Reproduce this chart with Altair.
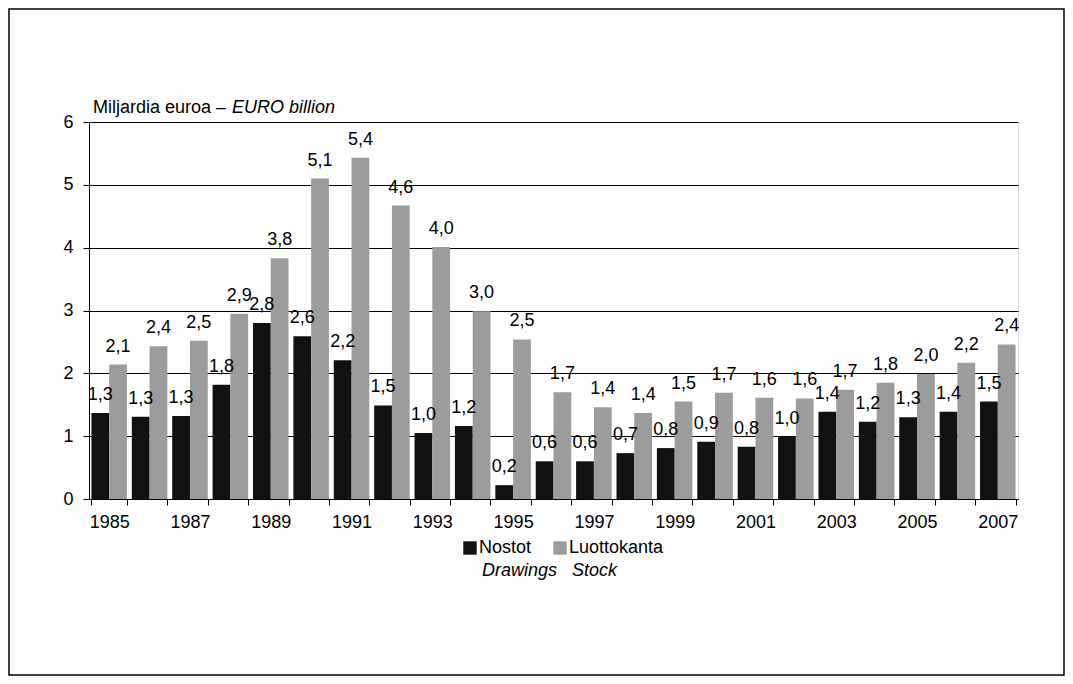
import altair as alt
import pandas as pd

years = [str(y) for y in range(1985, 2008)]
drawings = [1.37, 1.31, 1.32, 1.82, 2.80, 2.59, 2.21, 1.49, 1.05, 1.16, 0.22, 0.60, 0.60,
            0.73, 0.81, 0.91, 0.83, 0.99, 1.39, 1.23, 1.30, 1.39, 1.55]
drawings_labels = ["1,3", "1,3", "1,3", "1,8", "2,8", "2,6", "2,2", "1,5", "1,0", "1,2", "0,2", "0,6", "0,6",
                   "0,7", "0,8", "0,9", "0,8", "1,0", "1,4", "1,2", "1,3", "1,4", "1,5"]
stock = [2.14, 2.43, 2.52, 2.95, 3.83, 5.10, 5.43, 4.67, 4.01, 2.99, 2.54, 1.70, 1.46,
         1.37, 1.55, 1.69, 1.61, 1.60, 1.74, 1.85, 1.99, 2.17, 2.46]
stock_labels = ["2,1", "2,4", "2,5", "2,9", "3,8", "5,1", "5,4", "4,6", "4,0", "3,0", "2,5", "1,7", "1,4",
                "1,4", "1,5", "1,7", "1,6", "1,6", "1,7", "1,8", "2,0", "2,2", "2,4"]
series_names = ["Nostot", "Luottokanta"]
series_en = ["Drawings", "Stock"]
series_colors = ["#111111", "#9c9c9c"]
title_fi = "Miljardia euroa – "
title_en = "EURO billion"

FONT = "Liberation Sans, Arial, Helvetica"
FS = 18

rows = []
for i, y in enumerate(years):
    rows.append({"year": y, "series": series_names[0], "value": drawings[i], "label": drawings_labels[i]})
    rows.append({"year": y, "series": series_names[1], "value": stock[i], "label": stock_labels[i]})
df = pd.DataFrame(rows)

W, H = 929, 377

xenc = alt.X("year:O", title=None, sort=years,
             scale=alt.Scale(paddingInner=0.12, paddingOuter=0.06),
             axis=alt.Axis(labelAngle=0, tickBand="extent", tickSize=6, tickColor="black",
                           domainColor="black", labelColor="black", labelFont=FONT,
                           labelFontSize=FS, labelPadding=8,
                           labelExpr="parseInt(datum.value) % 2 == 1 ? datum.label : ''"))
xoff = alt.XOffset("series:N", sort=series_names, scale=alt.Scale(paddingInner=0))

base = alt.Chart(df)
bars = base.mark_bar().encode(
    x=xenc,
    xOffset=xoff,
    y=alt.Y("value:Q", title=None, scale=alt.Scale(domain=[0, 6]),
            axis=alt.Axis(values=[0, 1, 2, 3, 4, 5, 6], format="d", grid=True, gridColor="black",
                          gridOpacity=1, gridWidth=1, tickSize=6, tickColor="black",
                          domainColor="black", labelColor="black", labelFont=FONT,
                          labelFontSize=FS, labelPadding=10)),
    color=alt.Color("series:N", scale=alt.Scale(domain=series_names, range=series_colors), legend=None),
)
labels = base.mark_text(font=FONT, fontSize=FS, color="black", baseline="alphabetic", dy=-13).encode(
    x=alt.X("year:O", sort=years),
    xOffset=xoff,
    y="value:Q",
    text="label:N",
)

one = pd.DataFrame({"k": [0]})
frame = alt.Chart(one).mark_rect(fill="white", fillOpacity=0, stroke="black", strokeWidth=1.5).encode(
    x=alt.value(-80), x2=alt.value(975), y=alt.value(-113), y2=alt.value(553))

t1 = alt.Chart(one).mark_text(font=FONT, fontSize=FS, align="left", baseline="alphabetic", color="black").encode(
    x=alt.value(4), y=alt.value(-9), text=alt.value(title_fi))
t2 = alt.Chart(one).mark_text(font=FONT, fontSize=FS, fontStyle="italic", align="left",
                              baseline="alphabetic", color="black").encode(
    x=alt.value(143), y=alt.value(-9), text=alt.value(title_en))

leg_sq = []
leg_x = [381, 471]
for i in range(2):
    leg_sq.append(alt.Chart(one).mark_square(size=180, color=series_colors[i], opacity=1).encode(
        x=alt.value(leg_x[i]), y=alt.value(426)))
    leg_sq.append(alt.Chart(one).mark_text(font=FONT, fontSize=FS, align="left", baseline="middle",
                                           color="black").encode(
        x=alt.value(leg_x[i] + 9), y=alt.value(426), text=alt.value(series_names[i])))
    leg_sq.append(alt.Chart(one).mark_text(font=FONT, fontSize=FS, fontStyle="italic", align="left",
                                           baseline="middle", color="black").encode(
        x=alt.value(leg_x[i] + 12), y=alt.value(449), text=alt.value(series_en[i])))

chart = alt.layer(frame, bars, labels, t1, t2, *leg_sq).properties(
    width=W, height=H,
    padding={"left": 81, "top": 114, "right": 47, "bottom": 177},
    autosize=alt.AutoSizeParams(type="none"),
).configure_view(stroke="black", strokeWidth=1).configure(background="white")

chart.save("out.html", embed_options={"renderer": "svg", "actions": False})
